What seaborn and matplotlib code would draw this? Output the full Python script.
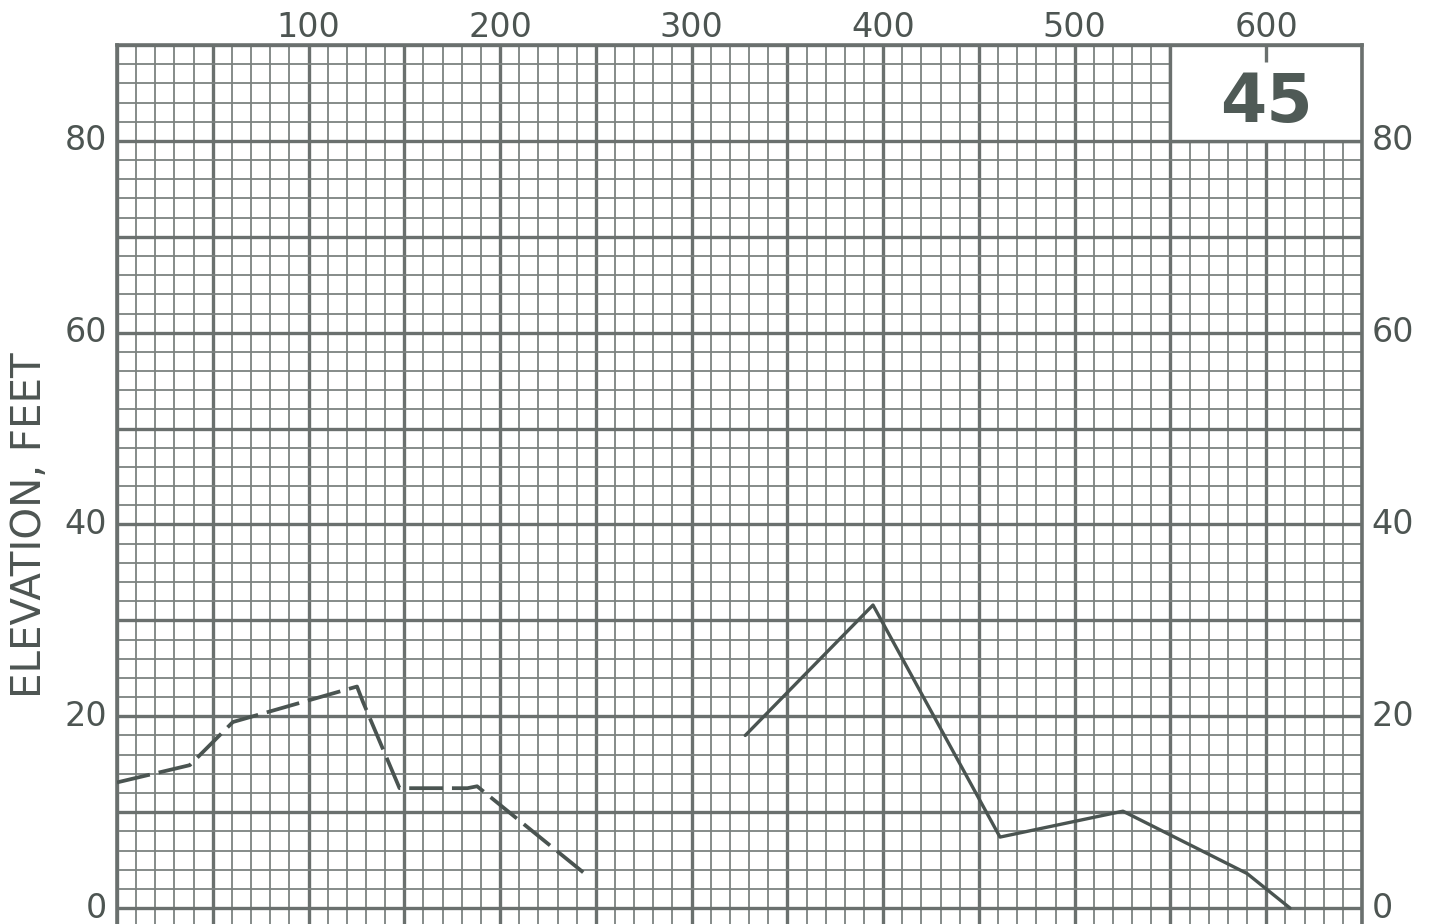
import matplotlib
matplotlib.use("Agg")
import matplotlib.pyplot as plt
from matplotlib.patches import Rectangle
from matplotlib.transforms import ScaledTranslation
import numpy as np
import seaborn as sns

# Profile data: distance (feet) and elevation (feet)
dashed_dist = [0, 38, 60.5, 125.3, 128.4, 147.5, 183, 188, 245.4]
dashed_elev = [13.1, 14.9, 19.4, 23.1, 21.5, 12.5, 12.5, 12.7, 3.4]

solid_dist = [328, 394.7, 461, 525.2, 590, 612.4]
solid_elev = [18.0, 31.6, 7.4, 10.1, 3.6, 0.0]

x_tick_values = [100, 200, 300, 400, 500, 600]
y_tick_values = [0, 20, 40, 60, 80]
y_label = "ELEVATION, FEET"
sheet_number = "45"

ink = "#4a5451"
grid_major = "#6a706e"
grid_minor = "#7c8280"
text_color = "#4d5552"

sns.set_theme(style="white")
plt.rcParams["font.family"] = ["DejaVu Sans"]

fig = plt.figure(figsize=(14.39, 9.24), dpi=100)
fig.patch.set_facecolor("white")
ax = fig.add_axes([0.08131, -0.02425, 0.86518, 0.97555])

xmin, xmax = 0, 650
ymin, ymax = -4, 90

# Graph-paper grid
ax.set_xticks(np.arange(0, 651, 50))
ax.set_xticks(np.arange(0, 651, 10), minor=True)
ax.set_yticks(np.arange(0, 91, 10))
ax.set_yticks(np.arange(-4, 91, 2), minor=True)
ax.set_xlim(xmin, xmax)
ax.set_ylim(ymin, ymax)
ax.grid(which="major", color=grid_major, linewidth=2.4, zorder=0.5)
ax.grid(which="minor", color=grid_minor, linewidth=1.3, zorder=0.4)
ax.set_axisbelow(True)
ax.tick_params(which="both", length=0, labelbottom=False, labelleft=False)
for s in ax.spines.values():
    s.set_color(grid_major)
    s.set_linewidth(2.6)

# Profile lines
sns.lineplot(x=dashed_dist, y=dashed_elev, ax=ax, color=ink, linewidth=2.7,
             dashes=(9, 2.4), sort=False, zorder=3)
sns.lineplot(x=solid_dist, y=solid_elev, ax=ax, color=ink, linewidth=2.4,
             sort=False, zorder=3)

# Sheet number box in the upper right corner
box = Rectangle((550, 80), 100, 10, facecolor="white", edgecolor=grid_major,
                linewidth=2.4, zorder=1)
ax.add_patch(box)
ax.vlines([x_tick_values[-1]], 88.2, 90, color=grid_major, linewidth=2.4, zorder=2)
ax.text(600, 84, sheet_number, ha="center", va="center", fontsize=48,
        fontweight="bold", color="#4f5a56", zorder=4)

# Tick labels on top, left and right
label_size = 24
top_shift = ax.transData + ScaledTranslation(0, 1 / 72, fig.dpi_scale_trans)
for x in x_tick_values:
    ax.text(x, ymax, str(x), transform=top_shift, ha="center", va="bottom",
            fontsize=label_size, color=text_color, clip_on=False)
for y in y_tick_values:
    ax.annotate(str(y), xy=(xmin, y), xytext=(-7, 0), textcoords="offset points",
                ha="right", va="center", fontsize=label_size, color=text_color,
                annotation_clip=False)
    ax.annotate(str(y), xy=(xmax, y), xytext=(7, 0), textcoords="offset points",
                ha="left", va="center", fontsize=label_size, color=text_color,
                annotation_clip=False)

ax.set_xlabel("")
ax.set_ylabel("")
ax.text(-0.0699, 0.467, y_label, transform=ax.transAxes, rotation=90,
        ha="center", va="center", fontsize=29, color=text_color, clip_on=False)

fig.savefig("out.png", dpi=100, facecolor="white")
